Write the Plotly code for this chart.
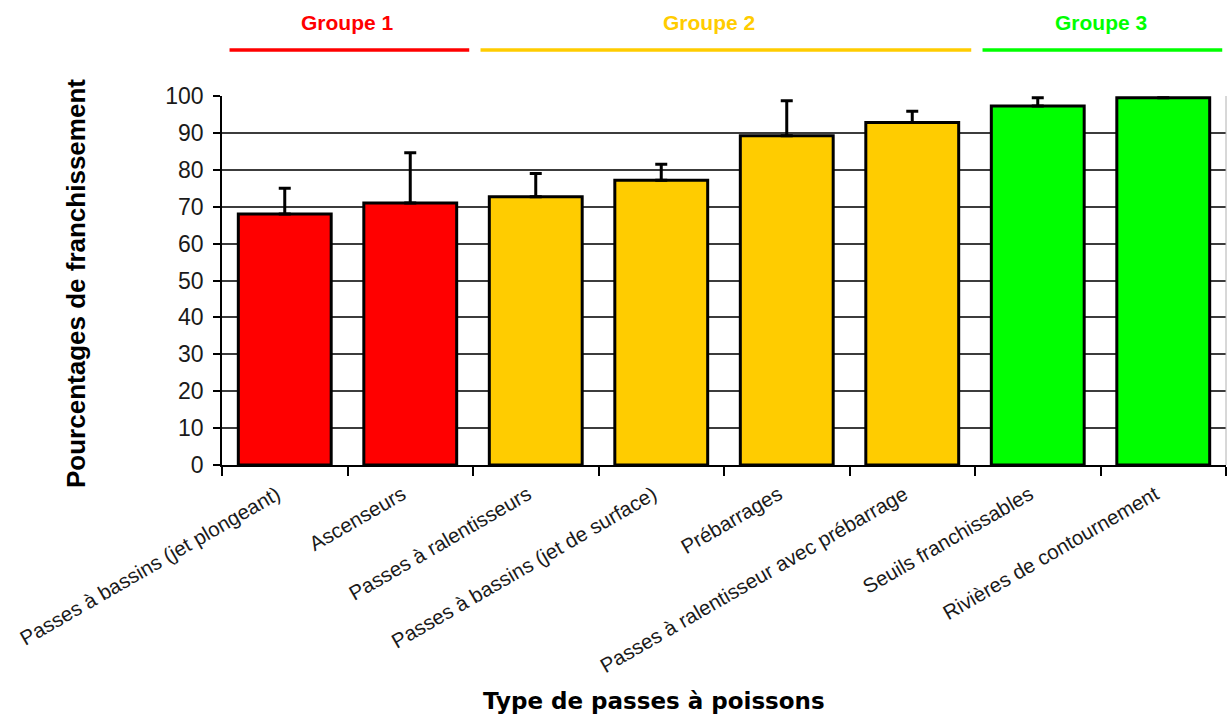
import plotly.graph_objects as go

# Fish-pass types and their passage success rates (%), with upper error values
categories = [
    "Passes à bassins (jet plongeant)",
    "Ascenseurs",
    "Passes à ralentisseurs",
    "Passes à bassins (jet de surface)",
    "Prébarrages",
    "Passes à ralentisseur avec prébarrage",
    "Seuils franchissables",
    "Rivières de contournement",
]
pct = [68.0, 71.0, 72.7, 77.2, 89.2, 92.8, 97.3, 99.5]
err_up = [7.0, 13.6, 6.3, 4.3, 9.5, 3.1, 2.2, 0.0]
group_of = [1, 1, 2, 2, 2, 2, 3, 3]

group_names = {1: "Groupe 1", 2: "Groupe 2", 3: "Groupe 3"}
group_colors = {1: "#FF0000", 2: "#FFCC00", 3: "#00FF00"}

y_ticks = list(range(0, 101, 10))

W, H = 1227, 715
M_L, M_R, M_T, M_B = 222, 1, 96, 250
plot_h = H - M_T - M_B


def paper_y(px_from_top):
    return (H - M_B - px_from_top) / plot_h


fig = go.Figure()
fig.add_bar(
    x=categories,
    y=pct,
    width=0.74,
    marker=dict(
        color=[group_colors[g] for g in group_of],
        line=dict(color="black", width=3),
    ),
    error_y=dict(
        type="data",
        symmetric=False,
        array=err_up,
        arrayminus=[0] * len(err_up),
        color="black",
        thickness=3,
        width=6,
    ),
    showlegend=False,
)

# Group headers: coloured label with an underline spanning the group's categories
shapes = []
annotations = []
for g in sorted(group_names):
    idx = [i for i, gg in enumerate(group_of) if gg == g]
    x0, x1 = idx[0] - 0.5 + 0.06, idx[-1] + 0.5 - 0.03
    shapes.append(dict(
        type="line", xref="x", yref="paper",
        x0=x0, x1=x1, y0=paper_y(50), y1=paper_y(50),
        line=dict(color=group_colors[g], width=3.5),
    ))
    annotations.append(dict(
        text=group_names[g], xref="x", yref="paper",
        x=(idx[0] + idx[-1]) / 2 - (0.12 if g == 2 else 0), y=paper_y(22),
        showarrow=False, xanchor="center", yanchor="middle",
        font=dict(family="Arial, Liberation Sans", size=21,
                  color=group_colors[g], weight="bold"),
    ))

# thin frame on the right edge of the plotting area
shapes.append(dict(type="line", xref="paper", yref="paper",
                   x0=1, x1=1, y0=0, y1=1,
                   line=dict(color="#b0b0b0", width=1)))

annotations.append(dict(
    text="Type de passes à poissons", xref="paper", yref="paper",
    x=(654 - M_L) / (W - M_L - M_R), y=paper_y(701),
    showarrow=False, xanchor="center", yanchor="middle",
    font=dict(family="DejaVu Sans", size=23, color="black", weight="bold"),
))
annotations.append(dict(
    text="Pourcentages de franchissement", xref="paper", yref="paper",
    x=(76 - M_L) / (W - M_L - M_R), y=paper_y(284),
    showarrow=False, textangle=-90, xanchor="center", yanchor="middle",
    font=dict(family="Arial, Liberation Sans", size=26, color="black",
              weight="bold"),
))

fig.update_layout(
    width=W, height=H,
    margin=dict(l=M_L, r=M_R, t=M_T, b=M_B),
    paper_bgcolor="white", plot_bgcolor="white",
    shapes=shapes, annotations=annotations,
    font=dict(family="Arial, Liberation Sans", color="#1a1a1a"),
)
fig.update_xaxes(
    type="category",
    range=[-0.5, len(categories) - 0.5],
    tickangle=-30, tickfont=dict(size=20.5, color="#1a1a1a"),
    ticklabelstandoff=8, ticklabelshift=-8,
    ticks="outside", tickson="boundaries", ticklen=9,
    tickcolor="black", tickwidth=1.5,
    showline=True, linecolor="black", linewidth=1.5,
    showgrid=False, zeroline=False,
)
fig.update_yaxes(
    range=[0, 100], tickvals=y_ticks,
    tickfont=dict(size=23, color="#1a1a1a"),
    ticklabelstandoff=5,
    ticks="outside", ticklen=7, tickcolor="black", tickwidth=1.5,
    showline=True, linecolor="black", linewidth=1.5,
    showgrid=True, gridcolor="#3c3c3c", gridwidth=1.5,
    zeroline=False,
)

fig.write_html("out.html")
